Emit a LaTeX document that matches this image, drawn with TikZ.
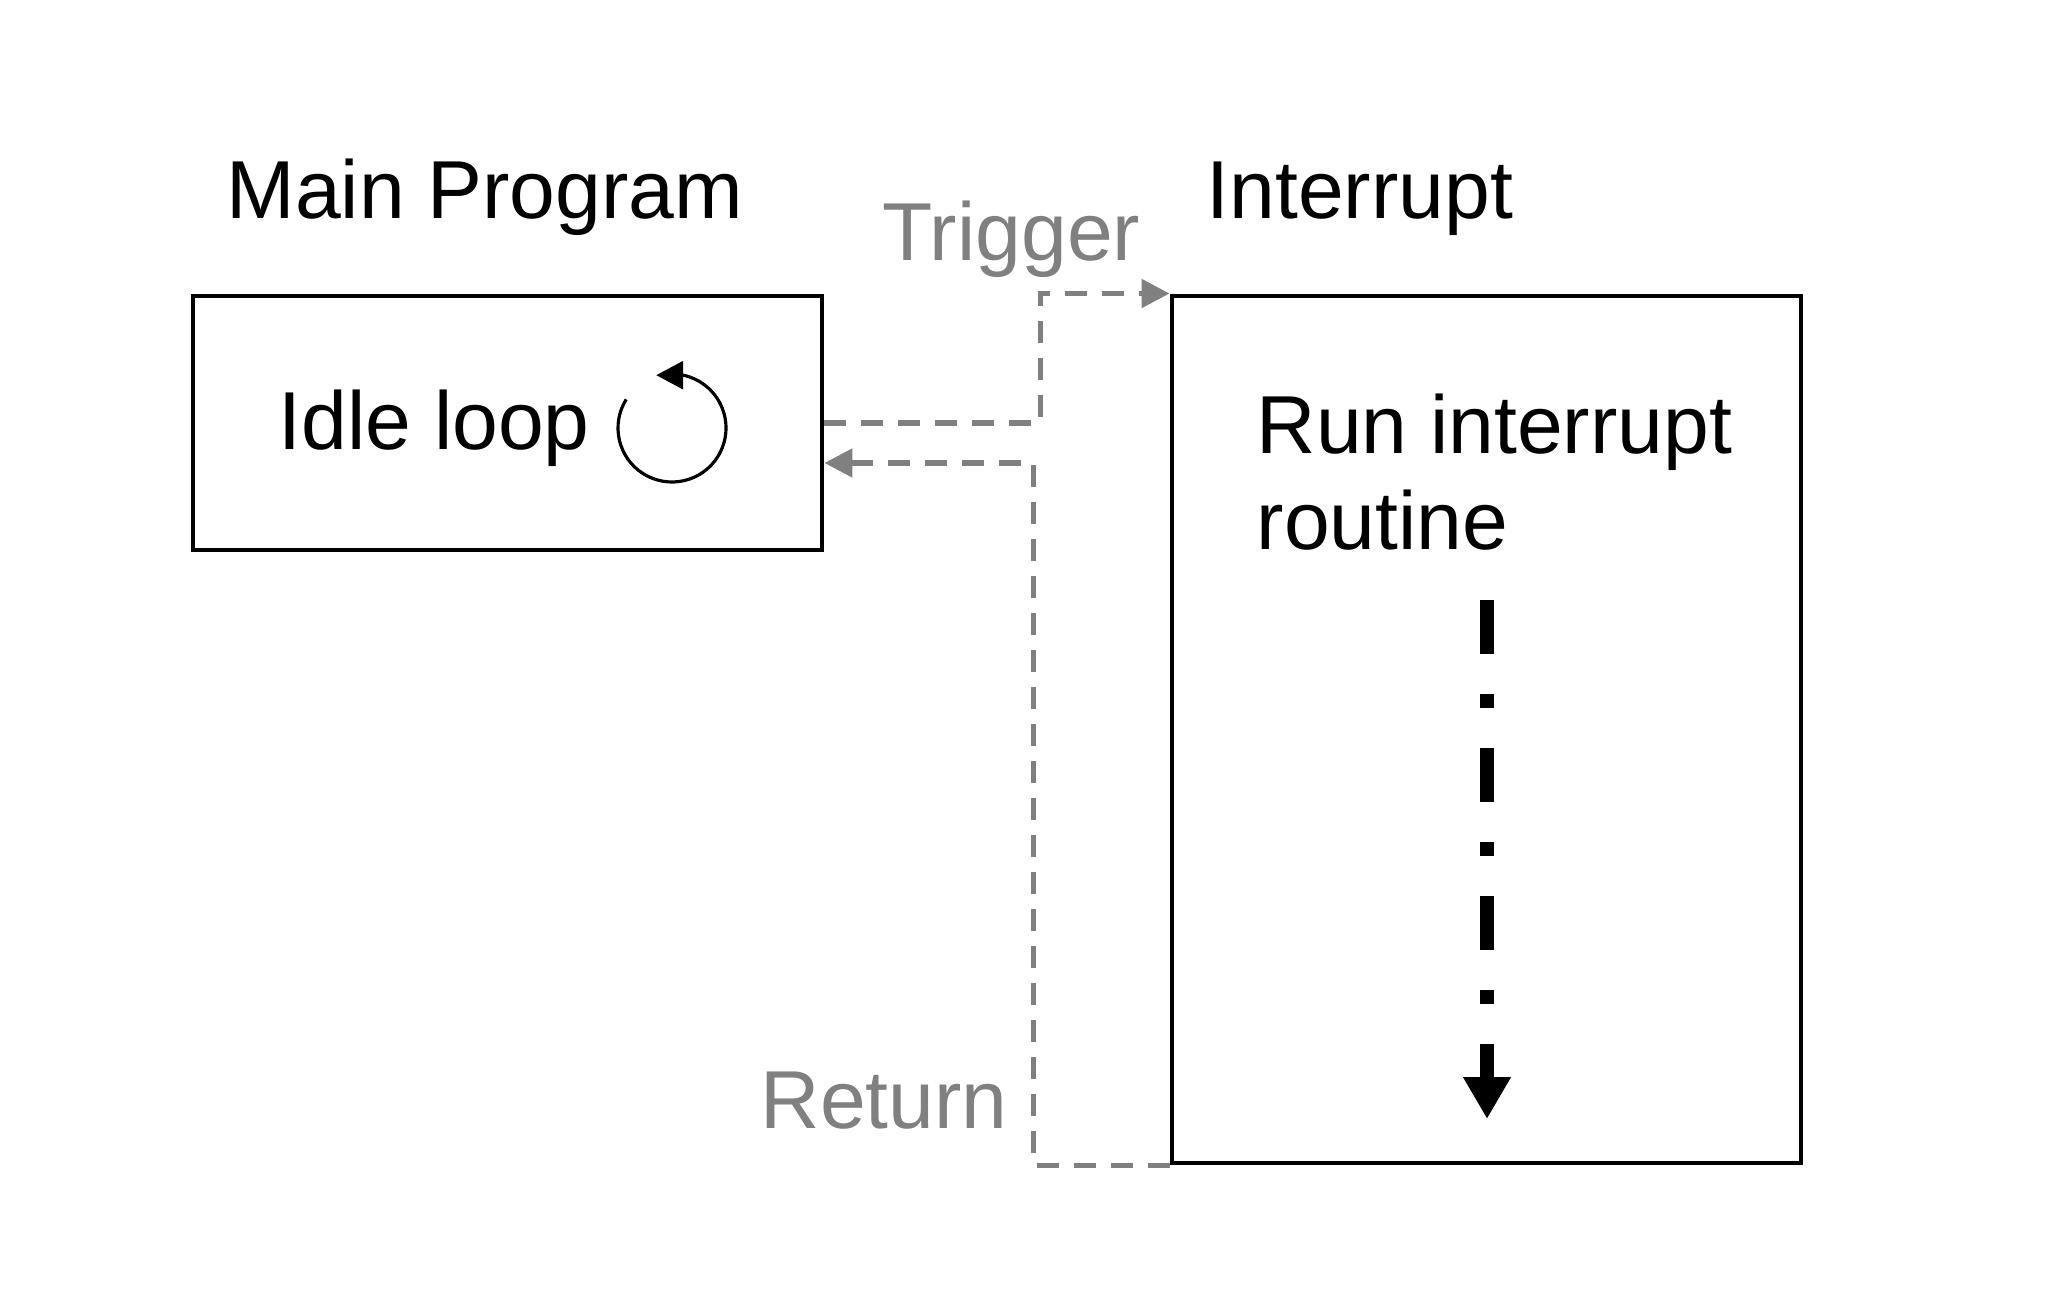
\documentclass[tikz,border=0pt]{standalone}
\usepackage{fontspec}
\setmainfont{Liberation Sans}
\usepackage{xcolor}
\usepackage{tikz}
\usetikzlibrary{arrows.meta,positioning,calc}
\definecolor{flowgray}{RGB}{128,128,128}

\begin{document}
\begin{tikzpicture}[
    >=Triangle,
    every node/.style={font=\fontsize{23.4}{27.3}\selectfont, inner sep=0pt},
    block/.style={draw=black, line width=1.4pt, rectangle},
    flow/.style={draw=flowgray, line width=1.5pt, dash pattern=on 0.22cm off 0.15cm},
    flowtext/.style={text=flowgray}
]
\useasboundingbox (0,0) rectangle (20.45,-13.06);

% boxes
\node[block, minimum width=6.29cm, minimum height=2.54cm] (mainbox) at (5.075,-4.23) {};
\node[block, minimum width=6.29cm, minimum height=8.67cm] (irqbox) at (14.865,-7.295) {};

% titles
\node[anchor=base west] (maintitle) at (2.26,-2.19) {Main Program};
\node[anchor=base west] (irqtitle) at (12.06,-2.19) {Interrupt};

% box texts
\node[anchor=base west] (idle) at (2.78,-4.50) {Idle loop};
\node[anchor=base west] (run) at (12.56,-4.54) {Run interrupt};
\node[anchor=base west] (routine) at (12.56,-5.50) {routine};

% idle loop symbol
\coordinate (loopc) at (6.72,-4.28);
\draw[line width=0.9pt, -{Triangle[length=0.27cm,width=0.28cm]}]
  ($(loopc)+(148:0.54)$) arc[start angle=148, end angle=438, radius=0.54] -- ++(-0.27,0);

% trigger and return
\coordinate (trigturn) at ($(mainbox.east)+(2.16,0)$);
\draw[flow, -{Triangle[length=0.28cm,width=0.28cm]}, flowgray] (mainbox.east) -- (trigturn) |- (irqbox.north west);
\node[flowtext, anchor=base west] (trig) at (8.82,-2.61) {Trigger};

\coordinate (retin) at ($(mainbox.east)+(0,-0.40)$);
\draw[flow, -{Triangle[length=0.28cm,width=0.28cm]}, flowgray] (irqbox.south west) -- ++(-1.36,0) |- (retin);
\node[flowtext, anchor=base west] (ret) at (7.60,-11.28) {Return};

% routine progress
\coordinate (runtop) at (14.87,-6.00);
\coordinate (runend) at (14.87,-11.19);
\draw[line width=0.14cm, dash pattern=on 0.54cm off 0.40cm on 0.14cm off 0.40cm,
  -{Triangle[length=0.42cm,width=0.45cm]}] (runtop) -- (runend);
\end{tikzpicture}
\end{document}
